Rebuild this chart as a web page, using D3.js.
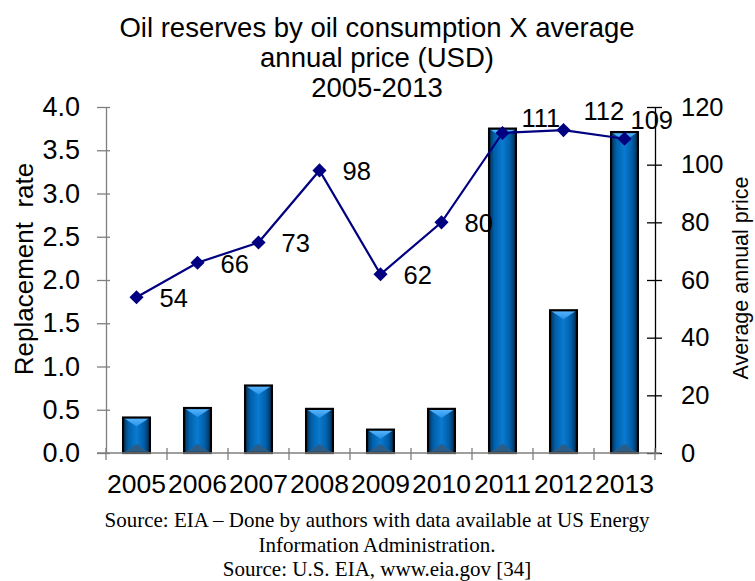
<!DOCTYPE html>
<html>
<head>
<meta charset="utf-8">
<script src="https://cdn.jsdelivr.net/npm/d3@7"></script>
<style>
  html, body { margin: 0; padding: 0; background: #fff; }
  svg { display: block; }
</style>
</head>
<body>
<script>
// ---- data ----
const years = ["2005","2006","2007","2008","2009","2010","2011","2012","2013"];
const replacementRate = [0.41, 0.52, 0.78, 0.51, 0.27, 0.51, 3.75, 1.65, 3.71];
const avgPrice = [54, 66, 73, 98, 62, 80, 111, 112, 109];
const leftTicks = [0, 0.5, 1.0, 1.5, 2.0, 2.5, 3.0, 3.5, 4.0];
const rightTicks = [0, 20, 40, 60, 80, 100, 120];
const titleLines = ["Oil reserves by oil consumption X average", "annual price (USD)", "2005-2013"];
const sourceLines = [
  "Source: EIA \u2013 Done by authors with data available at US Energy",
  "Information Administration.",
  "Source: U.S. EIA, www.eia.gov [34]"
];

// ---- layout ----
const W = 755, H = 581;
const plot = { left: 106, right: 655, top: 107, bottom: 453 };
const sans = "'Liberation Sans', Arial, sans-serif";
const serif = "'Liberation Serif', 'Times New Roman', serif";

const svg = d3.select("body").append("svg").attr("width", W).attr("height", H);

const x = d3.scaleBand().domain(years).range([plot.left, plot.right]).paddingInner(0.56).paddingOuter(0.28);
const xb = d3.scaleBand().domain(years).range([plot.left, plot.right]);
const yL = d3.scaleLinear().domain([0, 4]).range([plot.bottom, plot.top]);
const yR = d3.scaleLinear().domain([0, 120]).range([plot.bottom, plot.top]);

// gradients
const defs = svg.append("defs");
const g1 = defs.append("linearGradient").attr("id", "barBody").attr("x1", "0").attr("x2", "1").attr("y1", "0").attr("y2", "0");
[[0, "#062f55"], [0.2, "#0060aa"], [0.5, "#0a7ad0"], [0.78, "#005ea8"], [1, "#042a4c"]]
  .forEach(([o, c]) => g1.append("stop").attr("offset", o).attr("stop-color", c));
const g2 = defs.append("linearGradient").attr("id", "barTop").attr("x1", "0").attr("x2", "0").attr("y1", "0").attr("y2", "1");
[[0, "#5cb8ff"], [1, "#2590e6"]].forEach(([o, c]) => g2.append("stop").attr("offset", o).attr("stop-color", c));

// bars
const bars = svg.append("g");
years.forEach((yr, i) => {
  const x0 = x(yr), bw = x.bandwidth();
  const y0 = yL(replacementRate[i]), y1 = yL(0);
  const bev = Math.min(9, (y1 - y0) / 2, bw / 2);
  const g = bars.append("g");
  g.append("rect").attr("x", x0).attr("y", y0).attr("width", bw).attr("height", y1 - y0)
    .attr("fill", "url(#barBody)");
  g.append("path").attr("d", `M${x0},${y0}L${x0 + bw},${y0}L${x0 + bw / 2},${y0 + bev}Z`)
    .attr("fill", "url(#barTop)");
  g.append("path").attr("d", `M${x0},${y1}L${x0 + bw},${y1}L${x0 + bw / 2},${y1 - bev}Z`)
    .attr("fill", "#2a5d88");
  g.append("rect").attr("x", x0).attr("y", y0).attr("width", bw).attr("height", y1 - y0)
    .attr("fill", "none").attr("stroke", "#000").attr("stroke-width", 2.2);
});

// axes
function styleAxis(g, color) {
  g.selectAll(".domain").attr("stroke", color).attr("stroke-width", 1.3);
  g.selectAll(".tick line").attr("stroke", color).attr("stroke-width", 1.3);
  g.selectAll("text").attr("fill", "#000").attr("font-family", sans);
}
// left axis
const la = svg.append("g").attr("transform", `translate(${plot.left},0)`)
  .call(d3.axisLeft(yL).tickValues(leftTicks).tickFormat(d3.format(".1f")).tickSizeInner(9).tickSizeOuter(0).tickPadding(17));
styleAxis(la, "#7f7f7f");
la.selectAll("text").attr("font-size", 27);
svg.append("g").attr("transform", `translate(${plot.left},0)`)
  .call(d3.axisRight(yL).tickValues(leftTicks).tickFormat("").tickSizeInner(4).tickSizeOuter(0))
  .call(g => { g.select(".domain").remove(); g.selectAll(".tick line").attr("stroke", "#7f7f7f").attr("stroke-width", 1.3); });

// right axis
const ra = svg.append("g").attr("transform", `translate(${plot.right},0)`)
  .call(d3.axisRight(yR).tickValues(rightTicks).tickSizeInner(7).tickSizeOuter(0).tickPadding(19));
styleAxis(ra, "#000");
ra.selectAll("text").attr("font-size", 25.5);
svg.append("g").attr("transform", `translate(${plot.right},0)`)
  .call(d3.axisLeft(yR).tickValues(rightTicks).tickFormat("").tickSizeInner(8).tickSizeOuter(0))
  .call(g => { g.select(".domain").remove(); g.selectAll(".tick line").attr("stroke", "#000").attr("stroke-width", 1.3); });

// bottom axis: line + boundary ticks
const bx = svg.append("g").attr("transform", `translate(0,${plot.bottom})`);
bx.append("line").attr("x1", plot.left - 9).attr("x2", plot.right + 5).attr("y1", 0).attr("y2", 0)
  .attr("stroke", "#7f7f7f").attr("stroke-width", 1.3);
const bounds = years.map(y => xb(y)).concat([xb(years[years.length - 1]) + xb.bandwidth()]);
bx.selectAll("line.tk").data(bounds).join("line").attr("class", "tk")
  .attr("x1", d => d).attr("x2", d => d).attr("y1", -5).attr("y2", 7)
  .attr("stroke", "#7f7f7f").attr("stroke-width", 1.3);
bx.selectAll("text.yr").data(years).join("text").attr("class", "yr")
  .attr("x", d => xb(d) + xb.bandwidth() / 2).attr("y", 40)
  .attr("text-anchor", "middle").attr("font-family", sans).attr("font-size", 26.5).text(d => d);

// line series
const cx = d => xb(d) + xb.bandwidth() / 2;
const line = d3.line().x((d, i) => cx(years[i])).y(d => yR(d));
svg.append("path").datum(avgPrice).attr("d", line).attr("fill", "none")
  .attr("stroke", "#000080").attr("stroke-width", 2.2);
svg.append("g").selectAll("path").data(avgPrice).join("path")
  .attr("d", d3.symbol(d3.symbolSquare, 100))
  .attr("transform", (d, i) => `translate(${cx(years[i])},${yR(d)}) rotate(45)`)
  .attr("fill", "#000080");

// data labels (nudges for crowded top labels)
const labelNudge = { "2011": [19, -15], "2012": [20, -19], "2013": [6, -19] };
svg.append("g").selectAll("text").data(avgPrice).join("text")
  .attr("x", (d, i) => cx(years[i]) + (labelNudge[years[i]] ? labelNudge[years[i]][0] : 23))
  .attr("y", (d, i) => yR(d) + (labelNudge[years[i]] ? labelNudge[years[i]][1] : 1))
  .attr("dy", "0.35em").attr("font-family", sans).attr("font-size", 25.5).attr("fill", "#000")
  .text(d => d);

// axis titles
svg.append("text").attr("transform", "translate(33,269) rotate(-90)")
  .attr("text-anchor", "middle").attr("font-family", sans).attr("font-size", 26)
  .attr("xml:space", "preserve").style("white-space", "pre").text("Replacement  rate");
svg.append("text").attr("transform", "translate(748,278) rotate(-90)")
  .attr("text-anchor", "middle").attr("font-family", sans).attr("font-size", 21.5)
  .text("Average annual price");

// title
svg.append("g").selectAll("text").data(titleLines).join("text")
  .attr("x", 377).attr("y", (d, i) => 37 + i * 30)
  .attr("text-anchor", "middle").attr("font-family", sans).attr("font-size", 27.5).text(d => d);

// source
svg.append("g").selectAll("text").data(sourceLines).join("text")
  .attr("x", 377).attr("y", (d, i) => 527 + i * 24.5)
  .attr("text-anchor", "middle").attr("font-family", serif).attr("font-size", 21).text(d => d);
</script>
</body>
</html>
